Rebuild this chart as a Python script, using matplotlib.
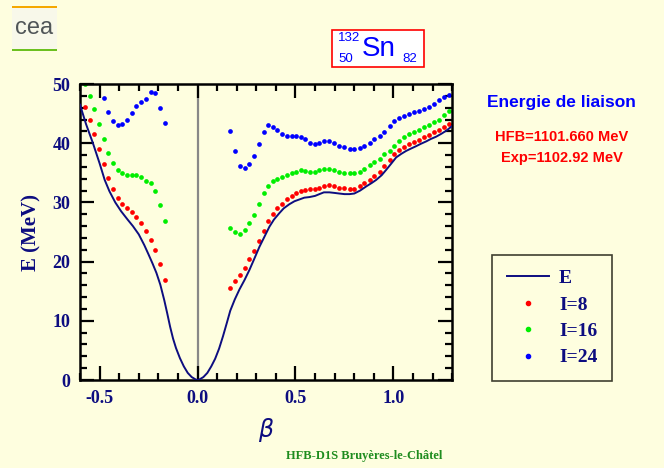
import numpy as np
import matplotlib.pyplot as plt
from matplotlib.patches import Rectangle
from matplotlib.lines import Line2D
from matplotlib.ticker import MultipleLocator

# Data
# --------------------------
beta_left = [-0.575, -0.551, -0.527, -0.504, -0.480, -0.456, -0.432, -0.408, -0.384,
             -0.361, -0.337, -0.313, -0.289, -0.264, -0.240, -0.216, -0.192, -0.168]
beta_right = [0.167, 0.192, 0.216, 0.240, 0.264, 0.289, 0.313, 0.337, 0.361, 0.384,
              0.408, 0.432, 0.456, 0.480, 0.503, 0.527, 0.551, 0.575, 0.598, 0.622,
              0.646, 0.670, 0.699, 0.724, 0.750, 0.776, 0.801, 0.827, 0.852, 0.878,
              0.903, 0.929, 0.954, 0.980, 1.005, 1.031, 1.056, 1.082, 1.107, 1.133,
              1.158, 1.184, 1.209, 1.235, 1.260, 1.286]

i8_left = [46.1, 43.9, 41.6, 39.1, 36.5, 34.1, 32.2, 30.8, 29.7, 29.0, 28.3, 27.5,
           26.5, 25.1, 23.7, 22.0, 19.6, 16.9]
i16_left = [50.0, 48.0, 45.7, 43.3, 40.7, 38.3, 36.6, 35.5, 34.9, 34.6, 34.6, 34.6,
            34.3, 33.7, 33.2, 32.0, 29.6, 26.9]
i24_left = [47.7, 45.3, 43.8, 43.1, 43.2, 44.0, 45.1, 46.3, 47.0, 47.5, 48.7, 48.4,
            46.0, 43.4]  # starts at beta_left[4]

i8_right = [15.5, 16.7, 17.8, 19.0, 20.4, 21.8, 23.5, 25.2, 26.8, 28.0, 29.1, 29.8,
            30.5, 31.1, 31.6, 31.9, 32.1, 32.2, 32.2, 32.4, 32.8, 32.9, 32.7, 32.5,
            32.4, 32.3, 32.3, 32.7, 33.2, 33.8, 34.5, 35.2, 36.1, 37.2, 38.2, 38.9,
            39.4, 39.9, 40.2, 40.5, 41.0, 41.4, 41.9, 42.3, 42.8, 43.2]
i16_right = [25.6, 25.0, 24.7, 25.4, 26.5, 27.9, 29.7, 31.6, 32.8, 33.6, 34.0, 34.3,
             34.6, 35.0, 35.2, 35.4, 35.3, 35.1, 35.1, 35.5, 35.7, 35.7, 35.5, 35.2,
             35.0, 34.9, 35.0, 35.2, 35.7, 36.3, 36.8, 37.4, 38.1, 38.7, 39.5, 40.4,
             41.0, 41.5, 41.9, 42.2, 42.7, 43.1, 43.6, 44.0, 44.7, 45.4]
i24_right = [42.0, 38.7, 36.1, 35.8, 36.5, 37.8, 39.8, 41.9, 43.0, 42.8, 42.2, 41.6,
             41.3, 41.3, 41.3, 41.1, 40.7, 40.1, 39.8, 40.1, 40.4, 40.4, 40.1, 39.6,
             39.4, 39.1, 39.0, 39.2, 39.6, 40.1, 40.7, 41.2, 41.9, 42.9, 43.7, 44.2,
             44.6, 44.9, 45.2, 45.4, 45.8, 46.2, 46.7, 47.3, 47.8, 48.2]

beta_E = [-0.60, -0.57, -0.534, -0.50, -0.474, -0.45, -0.42, -0.39, -0.357, -0.33,
          -0.30, -0.272, -0.25, -0.23, -0.21, -0.19, -0.17, -0.155, -0.14, -0.125,
          -0.11, -0.09, -0.07, -0.05, -0.03, -0.01, 0.0, 0.01, 0.03, 0.05, 0.07,
          0.09, 0.11, 0.13, 0.15, 0.167, 0.19, 0.214, 0.24, 0.265, 0.29, 0.316,
          0.34, 0.367, 0.39, 0.418, 0.44, 0.469, 0.495, 0.52, 0.545, 0.571, 0.60,
          0.622, 0.645, 0.673, 0.70, 0.724, 0.75, 0.776, 0.80, 0.83, 0.861, 0.89,
          0.912, 0.94, 0.963, 0.99, 1.014, 1.04, 1.065, 1.09, 1.116, 1.14, 1.167,
          1.19, 1.218, 1.245, 1.269, 1.30]
E = [46.5, 43.3, 40.0, 36.6, 33.8, 31.9, 30.0, 28.5, 27.1, 26.0, 24.6, 22.8, 21.2,
     19.7, 18.1, 16.1, 13.5, 11.3, 9.0, 7.0, 5.4, 3.7, 2.3, 1.2, 0.5, 0.1, 0.0, 0.1,
     0.5, 1.2, 2.3, 3.6, 5.3, 7.4, 9.7, 11.7, 13.6, 15.3, 16.9, 18.6, 20.5, 22.5,
     24.1, 25.9, 27.1, 28.2, 29.0, 29.7, 30.2, 30.5, 30.8, 30.9, 31.1, 31.4, 31.7,
     31.7, 31.6, 31.5, 31.4, 31.4, 31.5, 32.0, 32.7, 33.3, 33.8, 34.6, 35.5, 36.6,
     37.6, 38.2, 38.7, 39.1, 39.5, 39.9, 40.3, 40.7, 41.1, 41.6, 42.1, 42.9]

x_ticks = [-0.5, 0.0, 0.5, 1.0]
x_ticklabels = ["-0.5", "0.0", "0.5", "1.0"]
y_ticks = [0, 10, 20, 30, 40, 50]

# Style
# -----
bg = "#FEFEDF"
navy = "#0D0D80"
serif = ["Liberation Serif", "DejaVu Serif"]
sans = ["Liberation Sans", "DejaVu Sans"]

dot_config = {
    "linestyle": "none",
    "marker": "o",
    "markersize": 3.4,
    "markeredgewidth": 0,
}

fig = plt.figure(figsize=(6.64, 4.68), dpi=100, facecolor=bg)
ax = fig.add_axes([0.1205, 0.188, 0.5605, 0.6325], facecolor=bg)

ax.axvline(0.0, color="#888888", linewidth=1.6, zorder=1)

ax.plot(beta_E, E, color=navy, linewidth=1.4, zorder=3)

b_left_24 = beta_left[4:]
ax.plot(beta_left, i8_left, color="#FF0000", **dot_config)
ax.plot(beta_right, i8_right, color="#FF0000", **dot_config)
ax.plot(beta_left, i16_left, color="#00EE00", **dot_config)
ax.plot(beta_right, i16_right, color="#00EE00", **dot_config)
ax.plot(b_left_24, i24_left, color="#0000FF", **dot_config)
ax.plot(beta_right, i24_right, color="#0000FF", **dot_config)

ax.set_xlim(-0.6, 1.3)
ax.set_ylim(0, 50)

ax.set_xticks(x_ticks)
ax.set_xticklabels(x_ticklabels)
ax.set_yticks(y_ticks)
ax.xaxis.set_minor_locator(MultipleLocator(0.1))
ax.yaxis.set_minor_locator(MultipleLocator(2))

ax.tick_params(which="both", direction="in", top=True, right=True,
               colors="black", width=1.6)
ax.tick_params(which="major", length=10, pad=7, labelcolor=navy, labelsize=13)
ax.tick_params(which="minor", length=5)
for lab in ax.get_xticklabels() + ax.get_yticklabels():
    lab.set_family(serif)
    lab.set_fontweight("bold")

for sp in ax.spines.values():
    sp.set_linewidth(1.8)

ax.set_ylabel("E (MeV)", family=serif, fontweight="bold", fontsize=15,
              color=navy, labelpad=8)
ax.set_xlabel(r"$\beta$", fontsize=17, color=navy, labelpad=7)

# Legend
# ------
handles = [
    Line2D([], [], color=navy, linewidth=1.4),
    Line2D([], [], color="#FF0000", marker="o", markersize=3, linestyle="none"),
    Line2D([], [], color="#00EE00", marker="o", markersize=3, linestyle="none"),
    Line2D([], [], color="#0000FF", marker="o", markersize=3, linestyle="none"),
]
leg = fig.legend(
    handles, ["E", "I=8", "I=16", "I=24"],
    loc="upper left",
    bbox_to_anchor=(0.741, 0.455),
    borderaxespad=0,
    prop={"family": serif, "weight": "bold", "size": 14},
    frameon=True,
    fancybox=False,
    edgecolor="#404030",
    facecolor=bg,
    framealpha=1.0,
    handlelength=2.2,
    labelspacing=0.45,
    borderpad=0.75,
    handletextpad=0.5,
)
leg.get_frame().set_linewidth(1.2)
for t in leg.get_texts():
    t.set_color(navy)

# Side texts
# ----------
fig.text(0.846, 0.780, "Energie de liaison", color="#0000FF", family=sans,
         fontweight="bold", fontsize=12.5, ha="center", va="center")
fig.text(0.846, 0.707, "HFB=1101.660 MeV", color="#FF0000", family=sans,
         fontweight="bold", fontsize=10.5, ha="center", va="center")
fig.text(0.846, 0.662, "Exp=1102.92 MeV", color="#FF0000", family=sans,
         fontweight="bold", fontsize=10.5, ha="center", va="center")

# Nucleus box
# -----------
fig.patches.append(Rectangle((332 / 664, 1 - 67 / 468), 92 / 664, 37 / 468,
                             transform=fig.transFigure, facecolor="white",
                             edgecolor="#FF0000", linewidth=1.2))
fig.text(0.545, 1 - 49 / 468, "Sn", color="#0000FF", family=sans,
         fontsize=20, ha="left", va="center")
fig.text(0.542, 1 - 38 / 468, "132", color="#0000FF", family=sans,
         fontsize=9.5, ha="right", va="center")
fig.text(0.532, 1 - 59 / 468, "50", color="#0000FF", family=sans,
         fontsize=9.5, ha="right", va="center")
fig.text(0.606, 1 - 59 / 468, "82", color="#0000FF", family=sans,
         fontsize=9.5, ha="left", va="center")

# Logo
# ----
fig.patches.append(Rectangle((12 / 664, 1 - 50 / 468), 45 / 664, 44 / 468,
                             transform=fig.transFigure, facecolor="#F8F8EA",
                             edgecolor="none"))
fig.patches.append(Rectangle((12 / 664, 1 - 8 / 468), 45 / 664, 2 / 468,
                             transform=fig.transFigure, facecolor="#F5A800",
                             edgecolor="none"))
fig.patches.append(Rectangle((12 / 664, 1 - 51 / 468), 45 / 664, 2.5 / 468,
                             transform=fig.transFigure, facecolor="#6CC020",
                             edgecolor="none"))
fig.text(34 / 664, 1 - 28 / 468, "cea", color="#505558", family=sans,
         fontsize=17, ha="center", va="center")

# Footer
# ------
fig.text(0.548, 0.026, "HFB-D1S Bruyères-le-Châtel", color="#1E8C1E",
         family=serif, fontweight="bold", fontsize=9, ha="center", va="center")

fig.savefig("out.png", dpi=100, facecolor=bg)
